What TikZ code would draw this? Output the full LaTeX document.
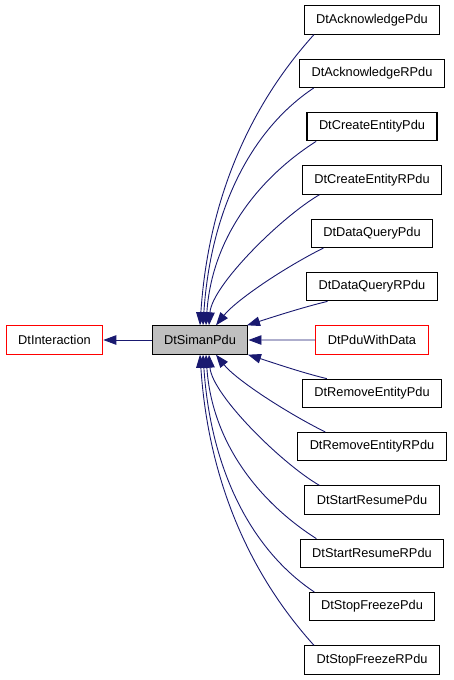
\documentclass[tikz,border=0pt]{standalone}
\usepackage{fontspec}
\setmainfont{Liberation Sans}
\usepackage{xcolor}
\usetikzlibrary{arrows.meta,positioning}

\definecolor{edgeblue}{HTML}{191970}
\definecolor{basegrey}{HTML}{BFBFBF}

\begin{document}
\begin{tikzpicture}[x=1pt, y=-1pt,
    every node/.style={font=\fontsize{12.8}{15}\selectfont},
    cls/.style={draw=black, line width=1.1pt, rectangle, minimum height=28.3pt,
                inner xsep=12pt, inner ysep=0pt},
    clsred/.style={cls, draw=red},
    clsbase/.style={cls, fill=basegrey},
    inherit/.style={draw=edgeblue, line width=0.9pt,
                    -{Triangle[length=13pt,width=9.5pt]}}]
    \useasboundingbox (0,0) rectangle (453,680);

    \node[clsbase] (siman) at (200,340) {DtSimanPdu};
    \node[clsred] (interaction) at (54.5,340) {DtInteraction};

    \foreach \k/\name/\txt/\sty in {0/ack/DtAcknowledgePdu/cls,
            1/ackr/DtAcknowledgeRPdu/cls, 2/create/DtCreateEntityPdu/cls,
            3/creater/DtCreateEntityRPdu/cls, 4/dataq/DtDataQueryPdu/cls,
            5/dataqr/DtDataQueryRPdu/cls, 6/pdu/DtPduWithData/clsred,
            7/remove/DtRemoveEntityPdu/cls, 8/remover/DtRemoveEntityRPdu/cls,
            9/start/DtStartResumePdu/cls, 10/startr/DtStartResumeRPdu/cls,
            11/stop/DtStopFreezePdu/cls, 12/stopr/DtStopFreezeRPdu/cls}
        \node[\sty] (\name) at (372,{20+53.333*\k}) {\txt};

    \draw[inherit] (siman) -- (interaction);
    \draw[inherit] (pdu) -- (siman);

    % upper children
    \foreach \name/\sx/\tx/\ax/\ay/\bx/\by in {ack/10.3/0/-47/52/10/-150,
            ackr/14.7/3/-60/40/8/-120, create/9.7/6/-55/35/6/-90,
            creater/17.7/9/-38/22/3/-40, dataq/12.7/16/-40/20/20/-25,
            dataqr/21.4/47/-25/6/25/-8}
        \draw[inherit] ([xshift=\sx pt]\name.south west) .. controls +(\ax,\ay)
            and +(\bx,\by) .. ([xshift=\tx pt]siman.north);

    % lower children
    \foreach \name/\sx/\tx/\ax/\ay/\bx/\by in {stopr/10/0/-47/-52/10/150,
            stop/5.7/3/-60/-40/8/120, startr/16.7/6/-55/-35/6/90,
            start/15/9/-38/-22/3/40, remover/28/16/-40/-20/20/25,
            remove/25/48/-25/-6/25/8}
        \draw[inherit] ([xshift=\sx pt]\name.north west) .. controls +(\ax,\ay)
            and +(\bx,\by) .. ([xshift=\tx pt]siman.south);
\end{tikzpicture}
\end{document}
